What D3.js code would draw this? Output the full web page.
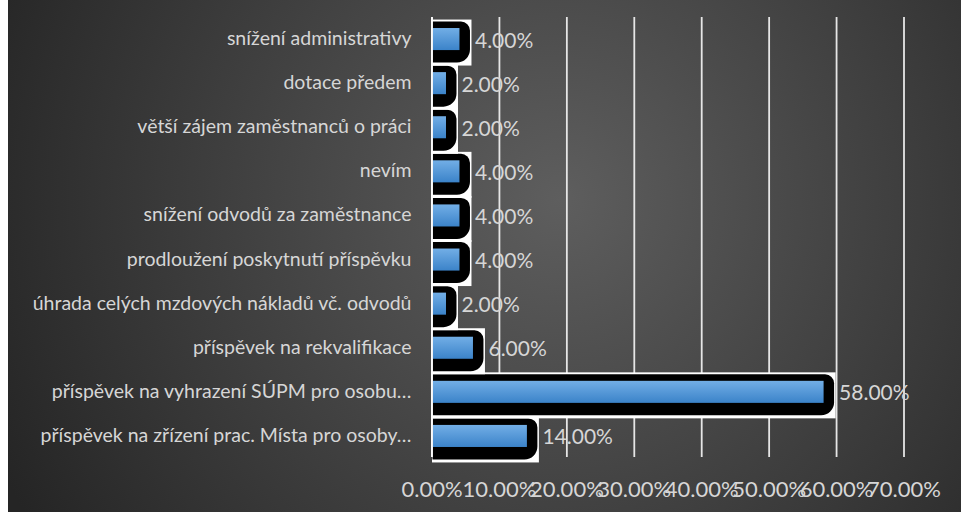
<!DOCTYPE html>
<html>
<head>
<meta charset="utf-8">
<script src="https://cdn.jsdelivr.net/npm/d3@7"></script>
<style>
  html, body { margin: 0; padding: 0; background: #fff; }
  svg { display: block; }
</style>
</head>
<body>
<svg id="chart"></svg>
<script>
// categories, top to bottom as they appear in the chart
const categories = [
  "snížení administrativy",
  "dotace předem",
  "větší zájem zaměstnanců o práci",
  "nevím",
  "snížení odvodů za zaměstnance",
  "prodloužení poskytnutí příspěvku",
  "úhrada celých mzdových nákladů vč. odvodů",
  "příspěvek na rekvalifikace",
  "příspěvek na vyhrazení SÚPM pro osobu…",
  "příspěvek na zřízení prac. Místa pro osoby…"
];
const shares = [0.04, 0.02, 0.02, 0.04, 0.04, 0.04, 0.02, 0.06, 0.58, 0.14];
const tickValues = [0, 0.1, 0.2, 0.3, 0.4, 0.5, 0.6, 0.7];

const width = 961;
const height = 512;

const svg = d3.select("#chart").attr("width", width).attr("height", height);

const defs = svg.append("defs");

const bg = defs.append("radialGradient")
  .attr("id", "bgGrad")
  .attr("gradientUnits", "userSpaceOnUse")
  .attr("cx", 560).attr("cy", 200).attr("r", 620);
bg.append("stop").attr("offset", "0%").attr("stop-color", "#5e5e5e");
bg.append("stop").attr("offset", "100%").attr("stop-color", "#252525");

const barGrad = defs.append("linearGradient")
  .attr("id", "barGrad")
  .attr("x1", 0).attr("y1", 0).attr("x2", 0).attr("y2", 1);
barGrad.append("stop").attr("offset", "0%").attr("stop-color", "#72aee6");
barGrad.append("stop").attr("offset", "100%").attr("stop-color", "#3b83c9");

// white strip on the left, then the dark chart area
svg.append("rect").attr("x", 0).attr("y", 0).attr("width", width).attr("height", height).attr("fill", "#ffffff");
svg.append("rect").attr("x", 8).attr("y", 0).attr("width", width - 8).attr("height", height).attr("fill", "url(#bgGrad)");

const x = d3.scaleLinear().domain([0, 0.7]).range([432, 904]);
const y = d3.scaleBand().domain(categories).range([17, 458]).paddingInner(0.5).paddingOuter(0.25);

const fmt = (v) => (v * 100).toFixed(2) + "%";

// gridlines
svg.append("g")
  .selectAll("line")
  .data(tickValues)
  .join("line")
  .attr("x1", (d) => x(d))
  .attr("x2", (d) => x(d))
  .attr("y1", 17)
  .attr("y2", 457)
  .attr("stroke", "#e6e6e6")
  .attr("stroke-width", 1.8);

// tick labels (they overlap each other, like the original)
svg.append("g")
  .selectAll("text")
  .data(tickValues)
  .join("text")
  .attr("x", (d) => x(d))
  .attr("y", 497)
  .attr("text-anchor", "middle")
  .attr("fill", "#d6d6d6")
  .style("font-family", "Lato, 'Open Sans', sans-serif")
  .style("font-size", "22px")
  .text((d) => fmt(d));

// rounded-on-the-right shape used for the black halo
const haloPath = (x0, y0, x1, y1, rTop, rBot) => {
  const p = d3.path();
  p.moveTo(x0, y0);
  p.lineTo(x1 - rTop, y0);
  p.arcTo(x1, y0, x1, y0 + rTop, rTop);
  p.lineTo(x1, y1 - rBot);
  p.arcTo(x1, y1, x1 - rBot, y1, rBot);
  p.lineTo(x0, y1);
  p.closePath();
  return p.toString();
};

const rows = categories.map((c, i) => ({ cat: c, v: shares[i] }));

// drawn from the bottom category up, as the spreadsheet does
const bars = svg.append("g")
  .selectAll("g")
  .data(rows.slice().reverse())
  .join("g");

bars.append("rect")
  .attr("x", x(0))
  .attr("y", (d) => y(d.cat) + y.bandwidth() / 2 - 19.5)
  .attr("width", (d) => x(d.v) - x(0) + 12.5)
  .attr("height", 46)
  .attr("fill", "#ffffff");

bars.append("path")
  .attr("d", (d) => {
    const c = y(d.cat) + y.bandwidth() / 2;
    return haloPath(x(0) + 0.5, c - 17.5, x(d.v) + 11, c + 23.5, 9, 13);
  })
  .attr("fill", "#000000");

bars.append("rect")
  .attr("x", x(0) + 0.5)
  .attr("y", (d) => y(d.cat))
  .attr("width", (d) => x(d.v) - x(0))
  .attr("height", y.bandwidth())
  .attr("fill", "url(#barGrad)");

// zero axis line on top of the bars' left edges
svg.append("line")
  .attr("x1", x(0)).attr("x2", x(0))
  .attr("y1", 17).attr("y2", 457)
  .attr("stroke", "#ffffff")
  .attr("stroke-width", 1.8);

// value labels
svg.append("g")
  .selectAll("text")
  .data(rows)
  .join("text")
  .attr("x", (d) => x(d.v) + 16)
  .attr("y", (d) => y(d.cat) + y.bandwidth() / 2 + 8.5)
  .attr("fill", "#d6d6d6")
  .style("font-family", "Lato, 'Open Sans', sans-serif")
  .style("font-size", "21px")
  .text((d) => fmt(d.v));

// category labels
svg.append("g")
  .selectAll("text")
  .data(rows)
  .join("text")
  .attr("x", 411.5)
  .attr("y", (d) => y(d.cat) + y.bandwidth() / 2 + 6)
  .attr("text-anchor", "end")
  .attr("fill", "#d6d6d6")
  .style("font-family", "Lato, 'Open Sans', sans-serif")
  .style("font-size", "19.5px")
  .text((d) => d.cat);
</script>
</body>
</html>
